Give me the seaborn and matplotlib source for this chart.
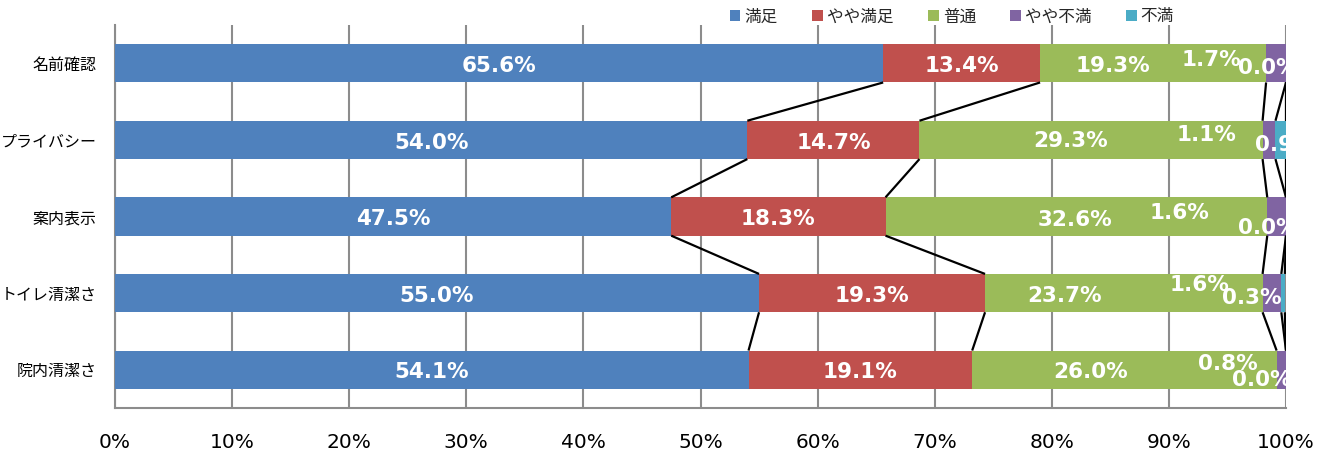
import matplotlib
matplotlib.use("Agg")
import matplotlib.pyplot as plt
from matplotlib.patches import Patch
import seaborn as sns
import numpy as np
import pandas as pd

categories = ["名前確認", "プライバシー", "案内表示", "トイレ清潔さ", "院内清潔さ"]
series = ["満足", "やや満足", "普通", "やや不満", "不満"]
manzoku = [65.6, 54.0, 47.5, 55.0, 54.1]
yaya_manzoku = [13.4, 14.7, 18.3, 19.3, 19.1]
futsu = [19.3, 29.3, 32.6, 23.7, 26.0]
yaya_fuman = [1.7, 1.1, 1.6, 1.6, 0.8]
fuman = [0.0, 0.9, 0.0, 0.3, 0.0]
xticks = [0, 10, 20, 30, 40, 50, 60, 70, 80, 90, 100]

colors = ["#4F81BD", "#C0504D", "#9BBB59", "#8064A2", "#4BACC6"]

sns.set_theme(style="white")
plt.rcParams["font.family"] = ["DejaVu Sans", "Noto Sans CJK JP"]

vals = np.array([manzoku, yaya_manzoku, futsu, yaya_fuman, fuman])  # series x cats
cum = np.cumsum(vals, axis=0)
starts = cum - vals

fig = plt.figure(figsize=(13.25, 4.55), dpi=100)
ax = fig.add_axes([115 / 1325, 1 - 408 / 455, (1286 - 115) / 1325, (408 - 25) / 455])

bar_h = 0.5
# stacked bars: draw cumulative totals from the last series backward
for s in range(len(series) - 1, -1, -1):
    df = pd.DataFrame({"cat": categories, "val": cum[s]})
    sns.barplot(data=df, x="val", y="cat", color=colors[s], width=bar_h,
                saturation=1, ax=ax, zorder=3, edgecolor="none", linewidth=0)

ax.set_xlim(0, 100)
ax.set_ylim(len(categories) - 0.5, -0.5)

# grid
for t in xticks:
    ax.axvline(t, color="#8c8c8c", lw=1.5, zorder=1)

# series connector lines
for i in range(len(categories) - 1):
    for s in range(len(series)):
        ax.plot([cum[s, i], cum[s, i + 1]], [i + bar_h / 2, i + 1 - bar_h / 2],
                color="black", lw=1.6, zorder=4, solid_capstyle="butt")

lab_kw = dict(color="white", fontweight="bold", fontsize=15.5, zorder=5,
              family="DejaVu Sans")
main_dy = 0.035
# blue and red labels, centred in segment
for s in range(2):
    for i in range(len(categories)):
        ax.text(starts[s, i] + vals[s, i] / 2, i + main_dy, f"{vals[s, i]:.1f}%",
                ha="center", va="center", **lab_kw)

# manually placed labels (style)
green_label_x = [85.2, 81.6, 82.0, 81.1, 83.3]
green_label_dy = [0.03, 0.01, 0.05, 0.035, 0.035]
yf_label_x = [93.6, 93.2, 90.9, 92.6, 95.0]
yf_label_dy = [-0.04, -0.06, -0.05, -0.11, -0.08]
f_label_x = [98.4, 99.9, 98.4, 97.1, 97.9]
f_label_dy = [0.06, 0.07, 0.15, 0.07, 0.14]
for i in range(len(categories)):
    ax.text(green_label_x[i], i + green_label_dy[i], f"{vals[2, i]:.1f}%",
            ha="center", va="center", **lab_kw)
    ax.text(yf_label_x[i], i + yf_label_dy[i], f"{vals[3, i]:.1f}%",
            ha="center", va="center", **lab_kw)
    ax.text(f_label_x[i], i + f_label_dy[i], f"{vals[4, i]:.1f}%",
            ha="center", va="center", clip_on=True, **lab_kw)

ax.set_xticks(xticks)
ax.set_xticklabels([f"{t}%" for t in xticks], fontsize=14.5, color="black")
ax.tick_params(axis="x", length=0, pad=18)
ax.tick_params(axis="y", length=0, pad=13)
for lbl in ax.get_yticklabels():
    lbl.set_fontfamily(["Noto Sans CJK JP", "DejaVu Sans"])
    lbl.set_fontsize(11.5)
    lbl.set_color("black")
ax.set_xlabel("")
ax.set_ylabel("")

for side in ["top", "right"]:
    ax.spines[side].set_visible(False)
for side in ["left", "bottom"]:
    ax.spines[side].set_color("#8c8c8c")
    ax.spines[side].set_linewidth(1.5)
    ax.spines[side].set_zorder(2)

handles = [Patch(facecolor=c, edgecolor="none") for c in colors]
fig.legend(handles, series, loc="center right", bbox_to_anchor=(1174 / 1325, 1 - 17 / 455),
           ncol=5, frameon=False, handlelength=0.65, handleheight=0.65,
           handletextpad=0.25, columnspacing=2.05, borderpad=0, borderaxespad=0,
           prop={"family": ["Noto Sans CJK JP", "DejaVu Sans"], "size": 12})

fig.savefig("out.png", dpi=100)
